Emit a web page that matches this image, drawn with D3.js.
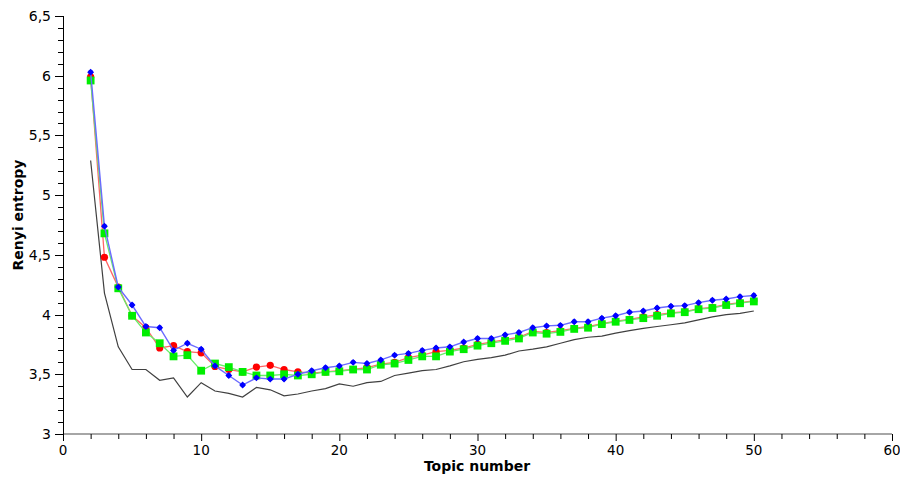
<!DOCTYPE html>
<html><head><meta charset="utf-8">
<script src="https://cdn.jsdelivr.net/npm/d3@7/dist/d3.min.js"></script>
<style>body{margin:0;background:#fff;} text{font-family:"DejaVu Sans",Verdana,sans-serif;}</style>
</head><body><svg id="c" width="900" height="478"></svg>
<script>
const topics = d3.range(2, 51);
const seriesBlack = [5.29,4.18,3.73,3.54,3.54,3.45,3.47,3.31,3.43,3.36,3.34,3.31,3.39,3.37,3.32,3.335,3.36,3.38,3.42,3.40,3.43,3.44,3.49,3.51,3.53,3.54,3.57,3.605,3.625,3.64,3.66,3.695,3.71,3.73,3.76,3.79,3.81,3.82,3.845,3.865,3.885,3.90,3.915,3.93,3.955,3.98,4.00,4.01,4.03];
const seriesRed = [5.99,4.48,4.23,3.99,3.89,3.72,3.74,3.69,3.68,3.565,3.54,3.52,3.56,3.575,3.54,3.52,3.51,3.52,3.53,3.54,3.555,3.585,3.60,3.64,3.66,3.69,3.70,3.72,3.75,3.77,3.79,3.81,3.86,3.85,3.865,3.885,3.90,3.925,3.945,3.96,3.98,4.00,4.015,4.025,4.05,4.06,4.085,4.10,4.115];
const seriesGreen = [5.96,4.68,4.22,3.99,3.85,3.76,3.65,3.66,3.53,3.59,3.56,3.52,3.49,3.49,3.50,3.49,3.50,3.52,3.525,3.54,3.54,3.58,3.59,3.62,3.65,3.65,3.69,3.71,3.74,3.76,3.78,3.80,3.85,3.84,3.855,3.88,3.89,3.92,3.94,3.955,3.97,3.99,4.01,4.02,4.045,4.055,4.08,4.095,4.11];
const seriesBlue = [6.03,4.74,4.23,4.08,3.90,3.89,3.70,3.76,3.71,3.57,3.49,3.41,3.47,3.46,3.46,3.50,3.53,3.555,3.57,3.60,3.59,3.62,3.66,3.675,3.70,3.72,3.73,3.77,3.80,3.80,3.83,3.85,3.89,3.905,3.91,3.94,3.94,3.97,3.99,4.02,4.03,4.055,4.07,4.075,4.10,4.12,4.13,4.15,4.16];
const xTicks = [0,10,20,30,40,50,60];
const yTicks = [3,3.5,4,4.5,5,5.5,6,6.5];

const svg = d3.select("#c");
const x = d3.scaleLinear().domain([0,60]).range([63,892]);
const y = d3.scaleLinear().domain([3,6.5]).range([434,16]);
const fmt = d => String(d).replace(".", ",");

// x axis
const gx = svg.append("g").attr("transform","translate(0,434)");
gx.append("line").attr("x1",x(0)).attr("x2",x(60)).attr("stroke","#888").attr("stroke-width",1.5);
gx.selectAll(".mt").data(d3.range(0,61,2)).join("line")
  .attr("x1",d=>x(d)+0.5).attr("x2",d=>x(d)+0.5).attr("y1",0).attr("y2",d=>d%10===0?7:5)
  .attr("stroke","#000").attr("stroke-width",1);
gx.selectAll("text").data(xTicks).join("text")
  .attr("x",d=>x(d)).attr("y",21).attr("text-anchor","middle").attr("font-size",13.5).attr("fill","#000").text(fmt);
svg.append("text").attr("x",477).attr("y",471).attr("text-anchor","middle").attr("font-size",14).attr("font-weight","bold").text("Topic number");

// y axis
const gy = svg.append("g").attr("transform","translate(63,0)");
gy.append("line").attr("x1",0.5).attr("x2",0.5).attr("y1",y(6.5)).attr("y2",y(3)).attr("stroke","#000").attr("stroke-width",1);
gy.selectAll(".mt").data(d3.range(30,66,1).map(d=>d/10)).join("line")
  .attr("y1",d=>Math.round(y(d))+0.5).attr("y2",d=>Math.round(y(d))+0.5).attr("x1",0).attr("x2",d=>(Math.round(d*10)%5===0)?-8:-5)
  .attr("stroke","#000").attr("stroke-width",1);
gy.selectAll("text").data(yTicks).join("text")
  .attr("x",-12).attr("y",d=>y(d)+5).attr("text-anchor","end").attr("font-size",14).attr("fill","#000").text(fmt);
svg.append("text").attr("transform","translate(23,215) rotate(-90)").attr("text-anchor","middle")
  .attr("font-size",14).attr("font-weight","bold").text("Renyi entropy");

const line = d3.line().x((d,i)=>x(topics[i])).y(d=>y(d));
function drawLine(data, color, w){
  svg.append("path").datum(data).attr("d",line).attr("fill","none").attr("stroke",color).attr("stroke-width",w);
}
drawLine(seriesBlack,"#404040",1.2);
drawLine(seriesRed,"#ff6666",1.3);
svg.append("g").selectAll("circle").data(seriesRed).join("circle")
  .attr("cx",(d,i)=>x(topics[i])).attr("cy",d=>y(d)).attr("r",3.6).attr("fill","#ff0000");
drawLine(seriesGreen,"#66ee66",1.3);
svg.append("g").selectAll("rect").data(seriesGreen).join("rect")
  .attr("x",(d,i)=>x(topics[i])-3.9).attr("y",d=>y(d)-3.9).attr("width",7.8).attr("height",7.8).attr("fill","#00ee00");
drawLine(seriesBlue,"#6a6aff",1.4);
const gb = svg.append("g");
gb.selectAll("path").data(seriesBlue).join("path")
  .attr("transform",(d,i)=>`translate(${x(topics[i])},${y(d)})`)
  .attr("d",d3.symbol().type(d3.symbolDiamond2).size(30)).attr("fill","#0000ff");
gb.selectAll("circle").data(seriesBlue).join("circle")
  .attr("cx",(d,i)=>x(topics[i])).attr("cy",d=>y(d)).attr("r",2.4).attr("fill","#0000ff");
</script></body></html>
